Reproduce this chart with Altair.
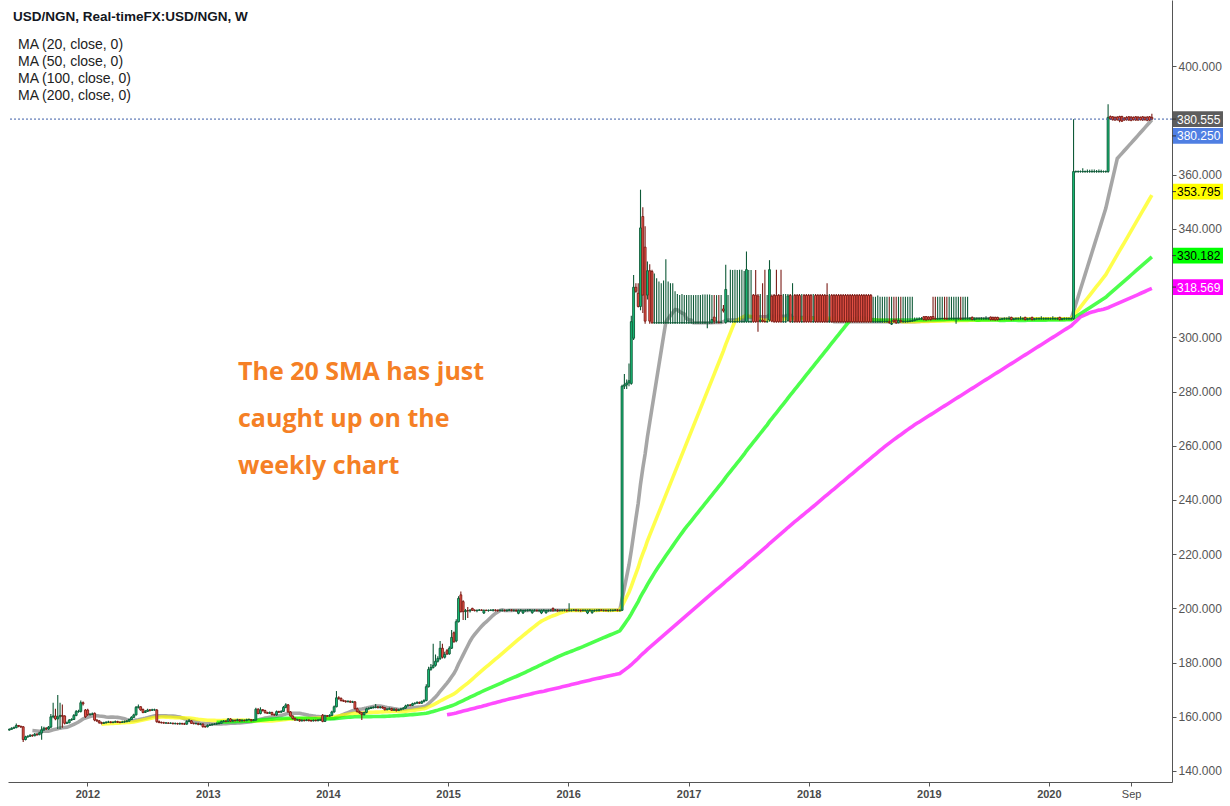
import altair as alt
import pandas as pd

# ---------------- data (weekly bars from 2011-03-07) ----------------
START = "2011-03-07"

OPEN = [
155.2,155.0,155.4,155.9,155.3,155.0,155.6,155.7,155.3,155.1,
155.4,155.8,156.0,156.8,156.5,156.3,151.6,152.6,152.8,153.2,
153.0,153.6,153.4,154.0,155.2,155.8,155.5,156.2,160.0,160.3,
159.2,160.0,160.5,160.3,157.6,157.8,158.8,159.0,160.5,161.9,
162.0,165.2,162.5,162.5,160.8,160.9,161.3,158.8,158.5,157.8,
157.6,157.8,158.0,158.1,157.9,158.0,158.2,158.0,157.9,158.1,
158.2,158.4,159.0,159.8,160.7,163.5,163.7,162.7,161.6,162.0,
162.5,162.4,162.6,162.5,158.2,157.9,157.8,157.7,157.7,157.6,
157.6,157.5,157.5,157.4,157.5,157.4,157.3,158.3,158.5,157.6,
157.5,157.5,157.2,157.3,156.4,156.3,156.8,157.0,157.2,157.3,
157.5,157.6,158.2,158.4,158.3,159.2,158.4,158.7,158.6,158.9,
158.5,158.7,158.6,158.9,159.0,158.6,158.8,162.8,161.2,162.6,
162.3,161.5,161.3,161.6,160.8,160.7,161.9,161.7,162.0,163.5,
164.4,161.8,160.3,159.4,158.8,158.9,158.5,158.7,158.6,158.8,
158.6,158.5,158.7,158.6,158.8,160.6,158.3,160.4,160.2,160.5,
161.8,163.7,167.0,166.8,166.0,165.8,165.6,165.7,165.4,165.5,
163.0,161.9,161.5,160.8,161.6,162.9,163.1,163.4,163.5,163.6,
163.4,163.6,163.3,162.6,162.8,163.0,162.4,162.8,162.3,162.6,
162.9,163.2,164.0,164.3,164.2,164.8,165.0,165.3,165.0,165.6,
166.0,171.1,177.5,178.2,179.0,180.5,181.5,185.3,182.0,184.4,
183.2,185.3,191.0,188.0,195.1,205.0,202.5,198.8,199.2,199.1,
200.0,199.3,199.2,199.3,199.4,198.3,199.3,199.2,199.3,199.3,
199.4,199.3,199.2,199.3,199.3,199.2,199.3,199.4,199.3,199.3,
198.2,199.3,198.3,199.2,199.3,199.3,198.4,199.3,199.3,199.2,
198.3,199.3,198.4,199.2,199.3,200.0,199.3,199.4,199.2,199.3,
199.3,199.3,199.2,199.3,199.3,199.4,199.3,199.3,199.2,199.3,
198.3,199.3,198.4,199.2,199.3,199.3,199.4,199.3,199.3,199.2,
199.3,199.3,199.3,199.4,199.3,199.3,282.0,282.5,283.2,283.0,
299.7,318.5,316.3,311.4,344.6,333.3,315.6,324.6,324.3,305.4,
305.4,305.4,305.4,305.4,305.4,305.4,305.4,305.4,305.4,305.4,
305.4,305.4,305.4,305.4,305.4,305.4,305.4,305.4,305.4,305.4,
305.4,305.4,305.4,305.4,305.4,307.5,305.6,305.6,305.5,310.5,
305.5,306.0,305.8,305.8,305.8,305.8,305.8,305.8,305.8,305.8,
305.8,305.8,315.6,315.6,315.3,305.8,306.4,305.9,305.8,306.4,
315.2,315.5,315.5,315.5,315.5,305.8,305.8,306.2,315.5,305.8,
315.5,315.5,315.5,305.8,315.5,315.5,315.5,315.5,305.8,315.5,
315.5,315.5,315.5,315.5,315.5,305.8,315.5,315.5,315.5,315.5,
315.5,315.5,315.5,315.5,315.5,315.5,315.5,315.5,315.5,315.5,
315.5,315.5,315.5,315.5,305.8,305.8,305.8,305.8,305.8,305.8,
305.8,305.8,304.9,306.4,306.4,305.4,306.2,305.8,305.8,305.8,
305.9,306.0,306.2,306.5,306.7,306.8,307.6,307.7,307.5,307.6,
307.7,306.9,306.8,306.9,306.9,307.0,306.9,306.8,306.9,306.9,
306.9,306.9,306.9,306.8,306.9,306.9,306.9,307.4,306.6,306.9,
306.9,306.9,306.9,306.9,306.9,307.5,307.4,307.4,307.4,306.6,
306.7,306.9,306.9,306.9,307.4,306.6,306.9,306.9,306.9,306.9,
307.4,306.6,306.9,307.4,306.6,306.9,306.9,306.9,306.9,306.9,
306.9,306.9,306.9,306.9,306.9,307.4,306.6,306.9,306.9,306.9,
306.9,306.9,361.2,361.2,361.2,361.2,361.2,361.2,361.2,361.2,
361.2,361.2,361.2,361.2,361.2,361.2,361.2,381.5,381.4,381.2,
381.3,381.5,381.5,380.9,381.2,381.4,381.3,381.2,381.4,381.3,
381.2,381.4,381.2,381.3,381.4,381.2,
]

HIGH = [
155.6,155.6,156.2,156.1,155.6,155.9,156.0,155.9,155.5,155.7,
156.1,156.4,157.5,157.0,156.7,156.6,153.0,153.2,153.6,153.5,
154.0,153.9,154.5,156.5,156.3,156.1,156.6,161.0,165.2,163.0,
168.0,165.2,164.5,160.6,158.3,159.2,159.5,161.0,162.5,162.6,
166.0,165.6,162.9,163.0,161.4,161.6,161.6,159.1,158.8,158.2,
158.2,158.4,158.5,158.4,158.4,158.6,158.5,158.3,158.5,158.6,
158.8,159.4,160.2,161.1,164.0,164.5,163.9,163.1,162.5,163.0,
162.9,163.0,163.0,162.9,158.6,158.3,158.2,158.1,158.0,158.0,
157.9,157.9,157.8,157.9,157.8,157.8,158.7,159.2,158.8,157.9,
157.9,157.8,157.7,157.6,156.8,157.2,157.4,157.6,157.7,157.9,
158.0,158.6,158.8,158.7,159.6,159.5,159.1,159.0,159.3,159.2,
159.1,159.0,159.3,159.4,159.2,159.2,163.3,163.2,163.5,162.9,
162.6,161.9,162.0,161.9,161.2,162.3,162.2,162.4,164.0,165.0,
164.7,162.1,160.6,159.7,159.3,159.2,159.1,159.0,159.2,159.1,
158.9,159.0,159.0,159.2,159.3,161.0,160.8,160.7,160.9,162.2,
164.2,169.5,167.6,167.1,166.4,166.1,166.1,166.0,165.9,165.8,
163.4,162.3,161.9,161.9,163.3,163.5,163.8,163.9,164.7,164.0,
164.0,163.9,163.6,163.2,163.4,163.3,163.2,163.1,163.0,163.3,
163.6,164.4,164.7,164.7,165.2,165.4,165.7,165.6,166.0,166.5,
172.0,178.5,179.5,187.0,183.0,182.3,188.0,187.0,184.0,185.0,
186.0,192.0,191.5,196.0,204.5,206.2,203.0,199.8,200.5,199.8,
200.2,199.7,199.6,199.8,199.7,199.6,199.6,199.6,199.7,199.8,
199.7,199.6,199.7,199.6,199.6,199.6,199.8,199.7,199.6,199.6,
199.6,199.7,199.6,199.6,199.7,199.8,199.6,199.7,199.6,199.6,
199.6,199.7,199.6,199.6,199.7,200.3,199.8,199.7,199.6,199.6,
199.7,199.6,201.9,199.6,199.8,199.7,199.6,199.6,199.7,199.6,
199.6,199.7,199.6,199.6,199.7,199.8,199.7,199.6,199.6,199.6,
199.7,199.6,199.8,199.7,199.6,282.5,286.5,284.5,290.4,308.0,
323.0,320.0,320.0,354.5,348.0,341.0,328.0,327.0,325.0,323.6,
321.8,320.6,320.0,321.0,328.8,320.6,320.0,320.0,317.0,316.0,
315.6,316.0,315.6,315.6,315.6,315.6,315.6,315.6,315.6,315.6,
315.8,315.8,315.8,315.8,315.6,315.6,315.6,315.6,315.6,312.0,
326.8,315.6,325.0,324.9,325.0,324.9,325.0,325.0,324.5,331.7,
324.9,324.9,316.0,324.9,316.0,316.0,320.0,325.0,315.6,328.5,
315.8,316.0,325.0,316.0,325.0,316.0,316.0,316.0,316.0,320.0,
316.0,316.0,316.0,316.0,316.0,316.0,316.0,316.0,316.0,316.0,
316.0,316.0,316.0,316.0,320.0,316.0,316.0,316.0,316.0,316.0,
316.0,316.0,316.0,316.0,316.0,316.0,316.0,316.0,316.0,316.0,
316.0,316.0,316.0,316.0,315.0,315.0,315.5,315.0,315.0,315.0,
315.0,315.0,315.0,315.0,315.0,315.0,315.0,315.0,315.0,315.0,
315.0,315.0,307.3,307.3,307.4,307.5,307.9,307.9,307.8,307.9,
315.0,315.0,315.0,315.0,315.0,315.0,315.0,315.0,315.0,315.0,
315.0,315.0,315.0,315.0,315.0,315.0,307.4,307.7,307.3,307.3,
307.3,307.4,307.3,307.8,307.3,307.7,307.6,307.6,307.6,307.0,
307.2,307.3,307.3,307.8,307.6,307.2,307.3,307.3,307.8,307.3,
307.6,307.2,307.3,307.6,307.2,307.3,307.3,307.8,307.3,307.3,
307.3,307.3,307.8,307.3,307.3,307.6,307.2,307.3,307.3,307.3,
307.3,380.5,361.6,361.6,361.6,362.4,361.6,362.0,361.9,362.0,
362.0,361.8,362.0,361.9,361.6,361.6,386.0,381.9,381.7,381.5,
381.6,381.8,381.8,381.3,381.6,381.7,381.6,381.5,381.7,381.6,
381.5,381.7,381.5,381.6,381.7,382.5,
]

LOW = [
154.8,154.7,155.2,155.0,154.7,154.8,155.3,155.0,154.8,154.9,
155.2,155.5,155.8,156.1,155.9,150.7,151.3,152.3,152.5,152.6,
152.8,153.0,153.2,151.5,154.8,155.1,155.2,155.8,159.5,158.7,
155.5,155.5,156.0,157.2,157.3,157.6,158.5,158.8,160.2,161.5,
161.6,164.2,159.6,160.3,160.5,160.7,158.4,158.1,157.4,157.2,
157.3,157.5,157.7,157.6,157.6,157.8,157.7,157.6,157.7,157.8,
158.0,158.2,158.8,159.6,160.5,163.1,162.2,161.3,161.4,161.8,
162.0,162.1,162.2,157.8,157.6,157.5,157.4,157.4,157.3,157.3,
157.2,157.2,157.1,157.1,157.1,157.0,157.1,158.0,157.3,157.2,
157.2,156.9,156.9,156.0,156.0,156.1,156.6,156.8,157.0,157.1,
157.2,157.4,158.0,158.0,158.1,158.1,158.2,158.3,158.4,158.2,
158.3,158.3,158.4,158.7,158.3,158.4,158.5,160.9,160.9,162.0,
161.2,161.0,161.0,160.5,160.4,160.4,161.4,161.5,161.8,163.2,
161.5,160.0,159.0,158.5,158.5,158.2,158.3,158.3,158.4,158.3,
158.2,158.3,158.3,158.3,158.5,158.0,158.1,159.9,160.0,160.2,
161.5,163.5,166.3,165.6,165.5,165.2,165.3,165.1,165.1,162.7,
161.6,161.1,158.8,160.5,161.3,162.7,162.9,163.1,163.2,163.1,
163.1,163.0,162.3,162.4,162.6,162.1,162.2,162.0,162.1,162.4,
162.7,163.0,163.8,163.9,164.0,164.5,164.8,164.7,164.8,165.3,
165.7,170.8,177.0,177.8,178.5,180.0,181.0,181.5,181.5,182.8,
182.9,185.0,187.3,187.5,194.8,198.5,195.7,195.7,196.5,198.5,
199.0,198.9,198.6,199.0,199.0,197.9,199.0,198.8,199.0,198.9,
198.9,198.8,198.9,198.9,198.9,198.8,199.0,198.9,198.9,198.8,
197.8,198.9,197.9,198.8,198.9,199.0,198.0,198.9,198.9,198.8,
197.9,198.9,198.0,198.8,198.9,198.9,199.0,198.8,198.9,198.9,
198.9,198.8,198.9,198.9,199.0,198.9,198.9,198.8,198.9,198.9,
197.9,198.9,198.0,198.8,198.9,198.9,199.0,198.9,198.9,198.8,
198.9,198.9,199.0,198.9,198.9,199.0,281.0,281.0,282.0,282.5,
299.0,316.5,311.0,310.0,309.0,305.0,314.0,305.0,305.0,305.0,
305.0,305.0,305.0,305.0,305.0,305.0,305.0,305.0,305.0,305.0,
305.0,305.0,305.0,305.0,305.0,305.0,305.0,305.0,305.0,305.0,
305.0,305.0,303.4,305.0,305.0,305.0,305.2,305.1,305.2,309.2,
305.0,305.5,305.4,305.4,305.4,305.4,305.4,305.4,305.4,305.4,
305.4,305.4,305.4,305.4,302.1,305.5,305.5,305.4,305.4,305.8,
305.6,305.4,305.4,305.4,305.4,305.4,305.4,305.8,305.4,305.4,
305.4,305.4,305.4,305.4,305.4,305.4,305.4,305.4,305.4,305.4,
305.4,305.4,305.4,305.4,305.4,305.4,305.4,305.4,305.4,305.4,
305.4,305.4,305.4,305.4,305.4,305.4,305.4,305.4,305.4,305.4,
305.4,305.4,305.4,305.4,305.4,305.4,305.4,305.4,305.4,305.4,
305.4,305.0,304.6,305.4,305.0,305.2,305.4,305.4,305.4,305.5,
305.6,305.8,306.0,306.3,306.4,306.5,306.2,306.1,306.3,306.2,
306.5,306.5,306.5,306.5,306.6,306.5,306.5,306.5,306.5,306.5,
305.0,306.5,306.4,306.5,306.5,306.5,306.5,306.3,306.3,306.5,
306.5,306.5,306.5,306.5,306.5,306.2,306.2,306.1,306.2,306.3,
306.5,306.5,306.5,306.5,306.2,306.3,306.5,306.5,306.5,306.5,
306.2,306.3,306.5,306.2,306.3,306.5,306.5,306.5,306.5,306.5,
306.5,306.5,306.5,306.5,306.5,306.2,306.3,306.5,306.5,306.5,
306.5,306.5,360.8,360.8,360.8,360.8,360.8,360.8,360.8,360.8,
360.8,360.8,360.8,360.8,360.8,360.8,360.8,380.3,380.0,379.9,
380.0,379.4,379.5,379.9,380.0,379.9,379.8,380.0,379.9,379.9,
380.0,379.9,380.0,379.8,379.9,380.2,
]

CLOSE = [
155.0,155.4,155.9,155.3,155.0,155.6,155.7,155.3,155.1,155.4,
155.8,156.0,156.8,156.5,156.3,151.6,152.6,152.8,153.2,153.0,
153.6,153.4,154.0,155.2,155.8,155.5,156.2,160.0,160.3,159.2,
160.0,160.5,160.2,157.6,157.8,158.8,159.0,160.5,161.9,162.0,
165.2,164.8,160.0,160.8,160.9,161.1,158.8,158.5,157.8,157.6,
157.8,158.0,158.1,157.9,158.0,158.2,158.0,157.9,158.1,158.2,
158.4,159.0,159.8,160.7,163.5,163.7,162.5,161.6,162.0,162.5,
162.4,162.6,162.6,158.2,157.9,157.8,157.7,157.7,157.6,157.6,
157.5,157.5,157.4,157.5,157.4,157.3,158.3,158.5,157.6,157.5,
157.5,157.2,157.3,156.4,156.3,156.8,157.0,157.2,157.3,157.5,
157.6,158.2,158.4,158.3,159.2,158.4,158.7,158.6,158.9,158.5,
158.7,158.6,158.9,159.0,158.6,158.8,162.8,161.2,162.6,162.3,
161.5,161.3,161.6,160.8,160.7,161.9,161.7,162.0,163.5,164.4,
161.8,160.3,159.4,158.8,158.9,158.5,158.7,158.6,158.8,158.6,
158.5,158.7,158.6,158.8,158.9,158.3,160.4,160.2,160.5,161.8,
163.7,167.0,166.8,166.0,165.8,165.6,165.7,165.4,165.5,163.0,
161.9,161.5,160.8,161.6,162.9,163.1,163.4,163.5,163.6,163.4,
163.6,163.3,162.6,162.8,163.0,162.4,162.8,162.3,162.6,162.9,
163.2,164.0,164.3,164.2,164.8,165.0,165.3,165.0,165.6,166.0,
171.1,177.5,178.2,179.0,180.5,181.5,185.3,182.0,183.0,183.2,
185.3,189.3,187.7,195.1,203.7,198.8,198.8,199.2,199.1,199.3,
199.3,199.2,199.3,199.4,199.3,199.3,199.2,199.3,199.3,199.4,
199.3,199.2,199.3,199.3,199.2,199.3,199.4,199.3,199.3,199.2,
199.3,199.3,199.2,199.3,199.3,199.4,199.3,199.3,199.2,199.3,
199.3,199.3,199.2,199.3,199.3,199.3,199.4,199.2,199.3,199.3,
199.3,199.2,199.3,199.3,199.4,199.3,199.3,199.2,199.3,199.3,
199.3,199.3,199.2,199.3,199.3,199.4,199.3,199.3,199.2,199.3,
199.3,199.3,199.4,199.3,199.3,282.0,282.5,283.2,284.0,305.8,
318.5,317.0,311.4,340.4,315.6,306.0,324.6,306.0,305.4,305.4,
305.4,305.4,305.4,305.4,305.4,305.4,305.4,305.4,305.4,305.4,
305.4,305.4,305.4,305.4,305.4,305.4,305.4,305.4,305.4,305.4,
305.4,305.4,305.4,305.4,306.6,306.0,305.6,305.5,305.6,309.8,
317.7,306.0,305.8,305.8,305.8,305.8,305.8,305.8,305.8,325.0,
305.8,305.8,305.8,305.8,305.8,306.4,305.9,305.8,305.8,325.0,
306.0,305.8,305.8,305.8,305.8,305.8,305.8,315.3,305.8,305.8,
305.8,305.8,305.8,305.8,305.8,305.8,305.8,305.8,305.8,305.8,
305.8,305.8,305.8,305.8,305.8,305.8,305.8,305.8,305.8,305.8,
305.8,305.8,305.8,305.8,305.8,305.8,305.8,305.8,305.8,305.8,
305.8,305.8,305.8,305.8,305.8,305.8,305.8,305.8,305.8,305.8,
305.8,305.5,305.2,305.8,305.4,306.2,305.8,305.8,305.8,305.9,
306.0,306.2,306.5,306.7,306.8,306.9,306.6,306.5,306.7,306.6,
306.9,306.8,306.9,306.9,307.0,306.9,306.8,306.9,306.9,306.9,
306.9,306.9,306.8,306.9,306.9,306.9,306.9,306.6,306.9,306.9,
306.9,306.9,306.9,306.9,306.9,306.6,306.6,306.5,306.6,306.7,
306.9,306.9,306.9,306.9,306.6,306.9,306.9,306.9,306.9,306.9,
306.6,306.9,306.9,306.6,306.9,306.9,306.9,306.9,306.9,306.9,
306.9,306.9,306.9,306.9,306.9,306.6,306.9,306.9,306.9,306.9,
306.9,361.2,361.2,361.2,361.2,361.2,361.2,361.2,361.2,361.2,
361.2,361.2,361.2,361.2,361.2,361.2,381.2,380.6,380.3,380.2,
380.3,380.0,379.8,380.2,380.3,380.2,380.1,380.3,380.2,380.2,
380.3,380.2,380.3,380.1,380.2,380.555,
]

MA_PERIODS = [20, 50, 100, 200]
MA_COLORS = ["#808080", "#ffff00", "#00ff00", "#ff00ff"]
MA_NAMES = ["MA (20, close, 0)", "MA (50, close, 0)", "MA (100, close, 0)", "MA (200, close, 0)"]

PRICE_LABELS = [380.555, 380.250, 353.795, 330.182, 318.569]
PRICE_LABEL_FILLS = ["#5d5d5d", "#4f7fe3", "#ffff00", "#00ff00", "#ff00ff"]
PRICE_LABEL_TEXT = ["#ffffff", "#ffffff", "#000000", "#000000", "#ffffff"]
PRICE_LABEL_SHIFT = [0, 16, 0, 0, 0]

# 320 and 380 are hidden behind the price labels in the reference
Y_TICKS = [140, 160, 180, 200, 220, 240, 260, 280, 300, 340, 360, 400]
X_TICKS = [(2012, 1, 1), (2013, 1, 1), (2014, 1, 1), (2015, 1, 1), (2016, 1, 1),
           (2017, 1, 1), (2018, 1, 1), (2019, 1, 1), (2020, 1, 1), (2020, 9, 7)]

TITLE = "USD/NGN, Real-timeFX:USD/NGN, W"
NOTE = ["The 20 SMA has just", "caught up on the", "weekly chart"]

# ---------------- build ----------------
n = len(CLOSE)
assert len(OPEN) == n and len(HIGH) == n and len(LOW) == n, (len(OPEN), len(HIGH), len(LOW), n)
dates = pd.date_range(START, periods=n, freq="7D")
df = pd.DataFrame({
    "date": dates.strftime("%Y-%m-%d"),
    "idx": list(range(n)),
    "open": OPEN, "high": HIGH, "low": LOW, "close": CLOSE,
})
df["dir"] = ["up" if c >= o else "down" for o, c in zip(OPEN, CLOSE)]

W, H = 1164, 782
xscale = alt.Scale(type="utc", domain=[alt.DateTime(year=2011, month=5, date=20, utc=True),
                                       alt.DateTime(year=2020, month=12, date=25, utc=True)])
yscale = alt.Scale(domain=[135.94, 424.5], nice=False, zero=False)

FONT = "Liberation Sans"

xaxis = alt.Axis(
    values=[alt.DateTime(year=y, month=m, date=d, utc=True) for (y, m, d) in X_TICKS],
    labelExpr="utcmonth(datum.value) == 0 ? utcFormat(datum.value, '%Y') : utcFormat(datum.value, '%b')",
    labelFontWeight={"condition": {"test": "utcmonth(datum.value) == 0", "value": "bold"}, "value": "normal"},
    labelFont=FONT, labelFontSize=11, labelColor="#4a4a4a", tickSize=4, tickColor="#555555",
    domainColor="#555555", labelPadding=2, title=None, grid=False, labelOverlap=False, labelFlush=False,
)
yaxis = alt.Axis(
    orient="right", values=Y_TICKS, format=".3f", labelFont=FONT, labelFontSize=12,
    labelColor="#555555", tickSize=4, tickColor="#555555", domainColor="#555555",
    labelPadding=2, title=None, grid=False,
)

base = alt.Chart(df)

layers = []
for p, col in zip(MA_PERIODS, MA_COLORS):
    ma = base.transform_window(
        ma="mean(close)", frame=[-(p - 1), 0], sort=[alt.SortField("idx")]
    ).transform_filter(alt.datum.idx >= p - 1).mark_line(
        color=col, strokeWidth=3.6, opacity=0.7, clip=True
    ).encode(
        x=alt.X("date:T", scale=xscale, axis=xaxis),
        y=alt.Y("ma:Q", scale=yscale, axis=yaxis),
    )
    layers.append(ma)

dir_scale_dark = alt.Scale(domain=["up", "down"], range=["#0f5a38", "#7a1c16"])
dir_scale_fill = alt.Scale(domain=["up", "down"], range=["#17c27a", "#f2584c"])

wicks = base.mark_rule(strokeWidth=1.1, clip=True).encode(
    x=alt.X("date:T", scale=xscale, axis=xaxis),
    y=alt.Y("low:Q", scale=yscale, axis=yaxis),
    y2="high:Q",
    color=alt.Color("dir:N", scale=dir_scale_dark, legend=None),
)
bodies = base.mark_bar(size=1.9, strokeWidth=0.9, clip=True).encode(
    x=alt.X("date:T", scale=xscale, axis=xaxis),
    y=alt.Y("open:Q", scale=yscale, axis=yaxis),
    y2="close:Q",
    fill=alt.Fill("dir:N", scale=dir_scale_fill, legend=None),
    stroke=alt.Stroke("dir:N", scale=dir_scale_dark, legend=None),
)
layers += [wicks, bodies]

one = pd.DataFrame({"k": [0]})
price_line = alt.Chart(one).mark_rule(color="#3d5ea8", strokeDash=[2, 2], strokeWidth=1).encode(
    y=alt.YDatum(PRICE_LABELS[0], type="quantitative", scale=yscale, axis=yaxis)
)
layers.append(price_line)

half = 7.9 / 2.71
for v, fill, tc, sh in zip(PRICE_LABELS, PRICE_LABEL_FILLS, PRICE_LABEL_TEXT, PRICE_LABEL_SHIFT):
    box = alt.Chart(one).mark_rect(color=fill, yOffset=sh, y2Offset=sh).encode(
        x=alt.value(W + 1), x2=alt.value(W + 51),
        y=alt.YDatum(v - half, type="quantitative", scale=yscale, axis=yaxis),
        y2=alt.Y2Datum(v + half),
    )
    tick = alt.Chart(one).mark_rule(color="#333333", yOffset=sh, strokeWidth=1).encode(
        x=alt.value(W), x2=alt.value(W + 4),
        y=alt.YDatum(v, type="quantitative", scale=yscale, axis=yaxis),
    )
    txt = alt.Chart(one).mark_text(
        align="left", baseline="middle", font=FONT, fontSize=12, color=tc, yOffset=sh, dy=0.5
    ).encode(
        x=alt.value(W + 5),
        y=alt.YDatum(v, type="quantitative", scale=yscale, axis=yaxis),
        text=alt.value(f"{v:.3f}"),
    )
    layers += [box, tick, txt]

title = alt.Chart(one).mark_text(
    align="left", baseline="alphabetic", font=FONT, fontSize=13.5, fontWeight="bold", color="#131722"
).encode(x=alt.value(5), y=alt.value(20.5), text=alt.value(TITLE))
layers.append(title)

for k, name in enumerate(MA_NAMES):
    t = alt.Chart(one).mark_text(
        align="left", baseline="alphabetic", font=FONT, fontSize=14, color="#222222"
    ).encode(x=alt.value(10), y=alt.value(48.5 + 17 * k), text=alt.value(name))
    layers.append(t)

for k, line in enumerate(NOTE):
    t = alt.Chart(one).mark_text(
        align="left", baseline="middle", font="Open Sans", fontSize=25, fontWeight="bold", color="#f58025"
    ).encode(x=alt.value(230), y=alt.value(372 + 47 * k), text=alt.value(line))
    layers.append(t)

chart = alt.layer(*layers).properties(
    width=W, height=H,
    padding={"left": 8, "top": 0, "right": 58, "bottom": 24},
    autosize=alt.AutoSizeParams(type="none"),
    background="#ffffff",
).configure_view(stroke=None)

chart.save("out.html", embed_options={"renderer": "svg", "actions": False})
